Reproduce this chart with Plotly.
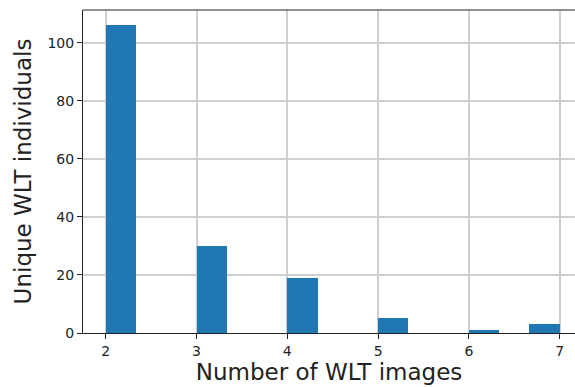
import numpy as np
import plotly.graph_objects as go

# Number of WLT images per individual, and how many individuals have that count
num_images = [2, 3, 4, 5, 6, 7]
num_individuals = [106, 30, 19, 5, 1, 3]

y_ticks = [0, 20, 40, 60, 80, 100]
x_ticks = [2, 3, 4, 5, 6, 7]

# 15 equal bins over [2, 7], last bin closed on the right
counts, edges = np.histogram(num_images, bins=15, range=(2, 7), weights=num_individuals)

font_family = "DejaVu Sans"
text_color = "#222222"
spine_color = "#222222"

fig = go.Figure(
    go.Bar(
        x=edges[:-1],
        y=counts,
        width=np.diff(edges),
        offset=0,
        marker=dict(color="#1f77b4", line=dict(width=0)),
    )
)

axis_common = dict(
    showgrid=True,
    gridcolor="#cfcfcf",
    gridwidth=1.6,
    showline=True,
    linecolor=spine_color,
    linewidth=1,
    ticks="outside",
    ticklen=5,
    tickcolor=spine_color,
    tickfont=dict(family=font_family, size=14, color=text_color),
    zeroline=False,
)

fig.update_layout(
    width=575,
    height=387,
    margin=dict(l=83, r=0, t=10, b=54),
    paper_bgcolor="white",
    plot_bgcolor="white",
    bargap=0,
    showlegend=False,
    xaxis=dict(
        axis_common,
        range=[1.75, 7.168],
        tickvals=x_ticks,
        title=dict(text="Number of WLT images", font=dict(family=font_family, size=23, color=text_color), standoff=3),
    ),
    yaxis=dict(
        axis_common,
        range=[0, 111.3],
        tickvals=y_ticks,
        title=dict(text="Unique WLT individuals", font=dict(family=font_family, size=23, color=text_color), standoff=9),
    ),
    shapes=[
        dict(type="line", xref="paper", yref="paper", x0=0, x1=1, y0=1, y1=1,
             line=dict(color=spine_color, width=1)),
    ],
)

fig.write_html("out.html")
